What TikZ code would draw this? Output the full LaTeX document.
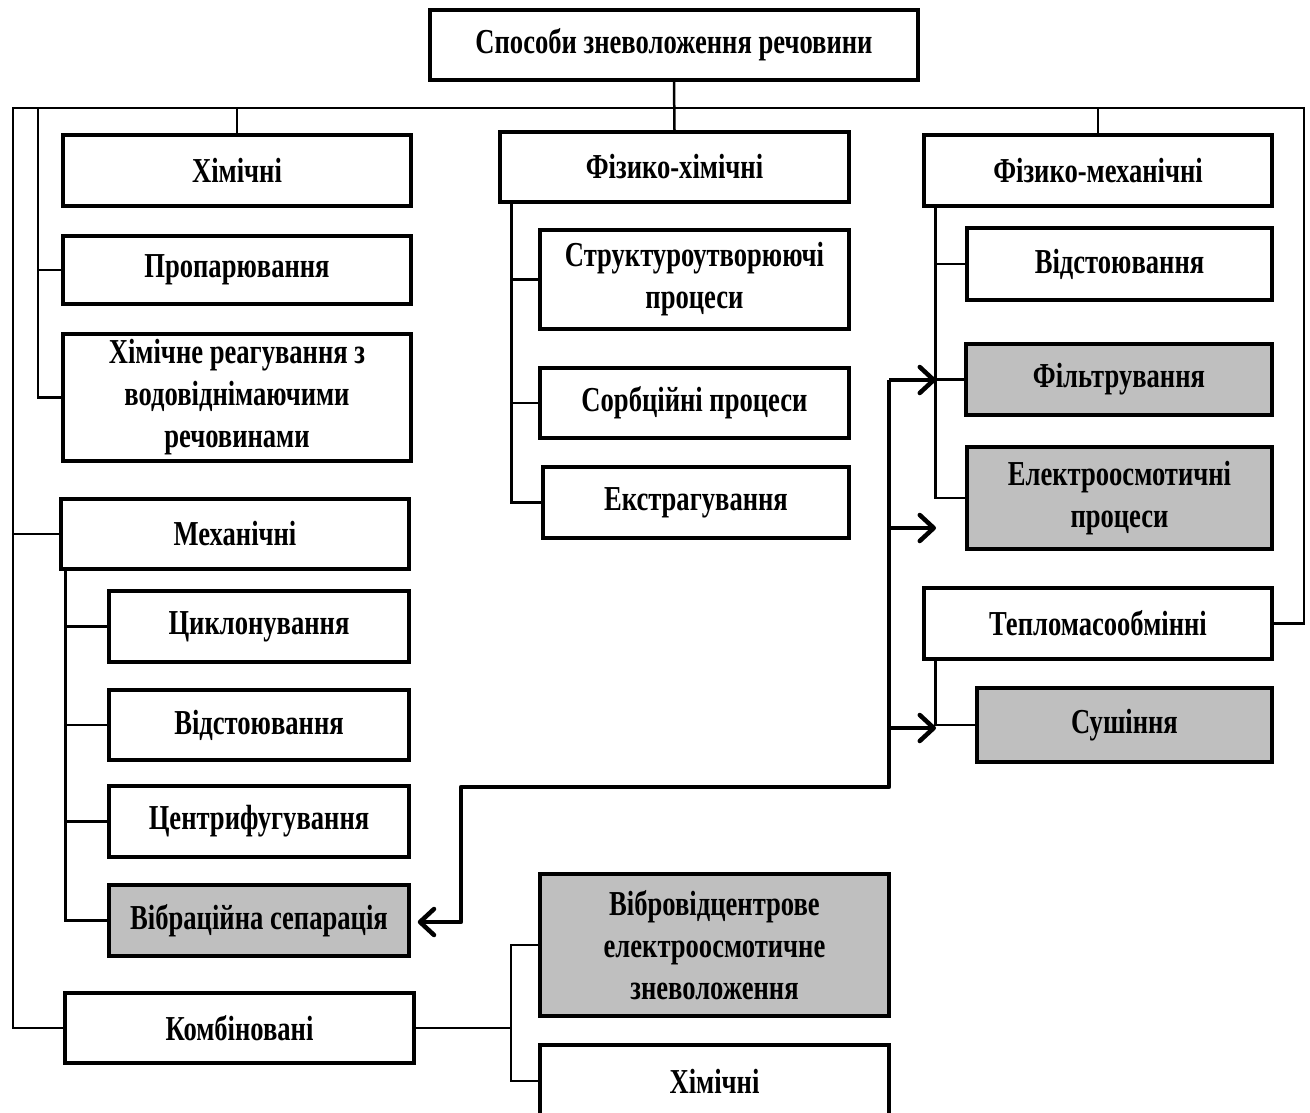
\documentclass[tikz,border=0pt]{standalone}
\usepackage{fontspec}
\setmainfont{Liberation Serif}[FakeStretch=0.76]
\usetikzlibrary{arrows.meta,calc}
\definecolor{shade}{HTML}{BFBFBF}
\tikzset{
  box/.style={draw, line width=3.5pt, fill=white, align=center, inner sep=0pt,
    font=\fontsize{35}{42}\selectfont\bfseries},
  greybox/.style={box, fill=shade},
  link/.style={line width=2.5pt},
  flow/.style={line width=4.5pt, line join=round},
  tipped/.style={-{Straight Barb[length=14pt,width=26pt,round]}},
}
\begin{document}
\begin{tikzpicture}[x=1pt,y=-1pt]
\useasboundingbox (0,0) rectangle (1310,1113);

% root
\node[box, minimum width=488pt, minimum height=70pt] (root) at (674,45) {Способи зневоложення речовини};

% left column
\node[box, minimum width=348pt, minimum height=71pt] (khim) at (237,170.5) {Хімічні};
\node[box, minimum width=348pt, minimum height=68pt] (prop) at (237,270) {Пропарювання};
\node[box, minimum width=348pt, minimum height=127pt] (reag) at (237,397.5) {Хімічне реагування з\\водовіднімаючими\\речовинами};
\node[box, minimum width=348pt, minimum height=70pt] (mekh) at (235,534) {Механічні};
\node[box, minimum width=300pt, minimum height=71pt] (cykl) at (259,626.5) {Циклонування};
\node[box, minimum width=300pt, minimum height=70pt] (vidstA) at (259,725) {Відстоювання};
\node[box, minimum width=300pt, minimum height=71pt] (centr) at (259,821.5) {Центрифугування};
\node[greybox, minimum width=300pt, minimum height=71pt] (vibr) at (259,920.5) {Вібраційна сепарація};
\node[box, minimum width=349pt, minimum height=70pt] (komb) at (239.5,1028) {Комбіновані};

% middle column
\node[box, minimum width=349pt, minimum height=70pt] (fkh) at (674.5,167) {Фізико-хімічні};
\node[box, minimum width=309pt, minimum height=99pt] (strukt) at (694.5,279.5) {Структуроутворюючі\\процеси};
\node[box, minimum width=309pt, minimum height=70pt] (sorb) at (694.5,403) {Сорбційні процеси};
\node[box, minimum width=306pt, minimum height=71pt] (ekstr) at (696,502.5) {Екстрагування};
\node[greybox, minimum width=349pt, minimum height=142pt] (vibrov) at (714.5,945) {Вібровідцентрове\\електроосмотичне\\зневоложення};
\node[box, minimum width=349pt, minimum height=72pt] (khimB) at (714.5,1081) {Хімічні};

% right column
\node[box, minimum width=348pt, minimum height=71pt] (fm) at (1098,170.5) {Фізико-механічні};
\node[box, minimum width=305pt, minimum height=72pt] (vidstB) at (1119.5,264) {Відстоювання};
\node[greybox, minimum width=306pt, minimum height=71pt] (filtr) at (1119,379.5) {Фільтрування};
\node[greybox, minimum width=305pt, minimum height=102pt] (elektro) at (1119.5,498) {Електроосмотичні\\процеси};
\node[box, minimum width=348pt, minimum height=71pt] (teplo) at (1098,623.5) {Тепломасообмінні};
\node[greybox, minimum width=295pt, minimum height=74pt] (sush) at (1124.5,725) {Сушіння};

% main bus
\coordinate (busL) at (13,108);
\coordinate (busL2) at (38,108);
\coordinate (busR) at (1304,108);
\draw[link] (komb.west) -| (busL) -- (busR) |- (teplo.east);
\draw[link] (root.south) -- (fkh.north);
\draw[link] (khim.north) -- (khim.north |- busL);
\draw[link] (fm.north) -- (fm.north |- busR);
\draw[link] (busL2) |- (reag.west);
\draw[link] (prop.west) -- (prop.west -| busL2);
\draw[link] (mekh.west) -- (mekh.west -| busL);

% mechanical branch
\coordinate (m0) at ($(mekh.south west)+(6,0)$);
\draw[link] (m0) |- (vibr.west);
\draw[link] (cykl.west) -- (cykl.west -| m0);
\draw[link] (vidstA.west) -- (vidstA.west -| m0);
\draw[link] (centr.west) -- (centr.west -| m0);

% physico-chemical branch
\coordinate (f0) at ($(fkh.south west)+(13,0)$);
\draw[link] (f0) |- (ekstr.west);
\draw[link] (strukt.west) -- (strukt.west -| f0);
\draw[link] (sorb.west) -- (sorb.west -| f0);

% physico-mechanical branch
\coordinate (p0) at ($(fm.south west)+(13,0)$);
\draw[link] (p0) |- (elektro.west);
\draw[link] (vidstB.west) -- (vidstB.west -| p0);
\draw[link] (filtr.west) -- (filtr.west -| p0);

% heat and mass exchange branch
\coordinate (t0) at ($(teplo.south west)+(13,0)$);
\draw[link] (t0) |- (sush.west);

% combined branch
\coordinate (k0) at (511,1028);
\draw[link] (komb.east) -- (k0);
\draw[link] (vibrov.west) -| (k0) |- (khimB.west);

% vibration separation feeds the physico-mechanical processes
\coordinate (jT) at (889,380);
\coordinate (jB) at (889,787);
\coordinate (jL) at (461,787);
\coordinate (tF) at (936,380);
\coordinate (tE) at (936,528);
\coordinate (tS) at (936,728);
\draw[flow, tipped] (jT) -- (jB) -- (jL) |- ($(vibr.east)+(7,1.5)$);
\draw[flow, tipped] (jT) -- (tF);
\draw[flow, tipped] (jT |- tE) -- (tE);
\draw[flow, tipped] (jT |- tS) -- (tS);
\end{tikzpicture}
\end{document}
